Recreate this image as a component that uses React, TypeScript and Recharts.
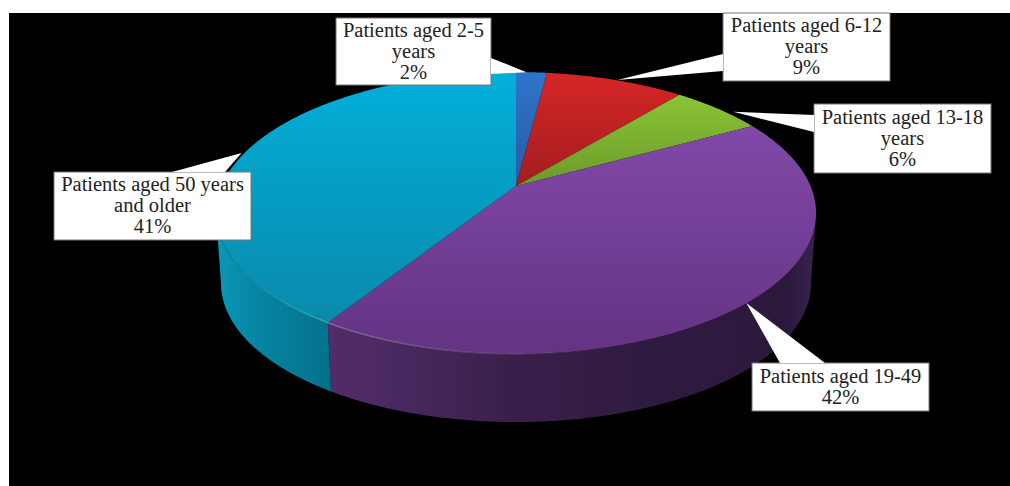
import React from "react";
import { PieChart, Pie } from "recharts";

const categories = [
  "Patients aged 2-5 years",
  "Patients aged 6-12 years",
  "Patients aged 13-18 years",
  "Patients aged 19-49",
  "Patients aged 50 years and older",
];
const values = [2, 9, 6, 42, 41];
const labelLines = [
  ["Patients aged 2-5", "years"],
  ["Patients aged 6-12", "years"],
  ["Patients aged 13-18", "years"],
  ["Patients aged 19-49"],
  ["Patients aged 50 years", "and older"],
];

// top face gradient, light to dark
const topColors = [
  ["#2f74cb", "#2a5aa2"],
  ["#d62626", "#a31d1f"],
  ["#8ac437", "#6c9a2a"],
  ["#8149a8", "#643383"],
  ["#02afd9", "#0a89ab"],
];

const wallStops: [number, string][][] = [
  [[0, "#1f4f90"], [1, "#1f4f90"]],
  [[0, "#8a1a1a"], [1, "#8a1a1a"]],
  [[0, "#5d8524"], [1, "#5d8524"]],
  [[0, "#532c69"], [0.19, "#46275c"], [0.38, "#3a1f4a"], [0.66, "#2e1a3f"], [0.94, "#2b193c"], [1, "#3a2350"]],
  [[0, "#0a97b8"], [0.3, "#0787a6"], [1, "#03708a"]],
];

// callout boxes, the two points where each pointer leaves its box,
// and how far its tip sits from the rim point at the slice's middle
const callouts = [
  { x: 336, y: 18, w: 155, h: 67, base: [[491, 58], [491, 74]], tipNudge: [-5, 0] },
  { x: 723, y: 13, w: 167, h: 68, base: [[723, 54], [723, 71]], tipNudge: [2, 0] },
  { x: 814, y: 104, w: 177, h: 69, base: [[814, 115], [814, 132]], tipNudge: [15, 3] },
  { x: 752, y: 363, w: 177, h: 48, base: [[780, 363], [825, 363]], tipNudge: [-4, 2] },
  { x: 54, y: 172, w: 197, h: 68, base: [[172, 172], [225, 172]], tipNudge: [-6, 3] },
];

const tableData = categories.map((name, i) => ({ name, value: values[i] }));

const CX = 516;
const CY = 186;
const RADIUS = 294.5;
const SQUASH = 0.461;
const TILT = 0.1915;
const WALL_DROP = 71;
const WALL_SCALE = 0.983;

// disc seen in perspective: the rim point for a polar angle, as an offset from the apex
const rimOffset = (deg: number, r: number) => {
  const rad = (deg * Math.PI) / 180;
  const u = Math.cos(rad);
  const v = -Math.sin(rad);
  const w = 1 - TILT * v;
  return { x: (r * u) / w, y: (r * SQUASH * v) / w, v };
};

const sampleAngles = (start: number, end: number) => {
  const steps = Math.max(2, Math.ceil(Math.abs(end - start) * 2));
  return Array.from({ length: steps + 1 }, (_, i) => start + ((end - start) * i) / steps);
};

const toPath = (pts: { x: number; y: number }[]) =>
  pts.map((p, i) => `${i ? "L" : "M"}${p.x.toFixed(2)},${p.y.toFixed(2)}`).join("");

const WallShape = (props: any) => {
  const { cx, cy, outerRadius, startAngle, endAngle, name } = props;
  const i = categories.indexOf(name);
  // only the part of the rim facing the viewer has a visible side
  const rim = sampleAngles(startAngle, endAngle)
    .map((a) => rimOffset(a, outerRadius))
    .filter((o) => o.v >= TILT);
  if (rim.length < 2) return <g />;
  const upper = rim.map((o) => ({ x: cx + o.x, y: cy + o.y }));
  const lower = rim
    .map((o) => ({ x: cx + o.x * WALL_SCALE, y: cy + WALL_DROP + o.y * WALL_SCALE }))
    .reverse();
  return <path d={toPath([...upper, ...lower]) + "Z"} fill={`url(#wall-${i})`} />;
};

const TopShape = (props: any) => {
  const { cx, cy, outerRadius, startAngle, endAngle, name } = props;
  const i = categories.indexOf(name);
  const rim = sampleAngles(startAngle, endAngle).map((a) => {
    const o = rimOffset(a, outerRadius);
    return { x: cx + o.x, y: cy + o.y, v: o.v };
  });
  const front = rim.filter((p) => p.v > 0);
  return (
    <g>
      <path d={toPath([{ x: cx, y: cy }, ...rim]) + "Z"} fill={`url(#top-${i})`} />
      {front.length > 1 && (
        <path d={toPath(front)} fill="none" stroke="url(#rimGlow)" strokeWidth={1.5} />
      )}
    </g>
  );
};

const CalloutLabel = (props: any) => {
  const { cx, cy, outerRadius, midAngle, name, value } = props;
  const i = categories.indexOf(name);
  const box = callouts[i];
  const tip = rimOffset(midAngle, outerRadius);
  const tipPoint = [cx + tip.x + box.tipNudge[0], cy + tip.y + box.tipNudge[1]];
  const pointer = [...box.base, tipPoint].map((p) => p.join(",")).join(" ");
  const lines = [...labelLines[i], `${value}%`];
  const lineHeight = 21;
  const firstLine = box.y + box.h / 2 - ((lines.length - 1) * lineHeight) / 2 + 6;
  return (
    <g>
      <rect x={box.x} y={box.y} width={box.w} height={box.h} fill="#fff" stroke="#777" strokeWidth={1} />
      <polygon points={pointer} fill="#fff" />
      <text
        textAnchor="middle"
        fontFamily="'Liberation Serif', serif"
        fontSize={20.5}
        fill="#222"
      >
        {lines.map((line, n) => (
          <tspan key={n} x={box.x + box.w / 2} y={firstLine + n * lineHeight}>
            {line}
          </tspan>
        ))}
      </text>
    </g>
  );
};

export default function App() {
  return (
    <div style={{ position: "absolute", left: 0, top: 0, width: 1010, height: 486, background: "#fff", overflow: "hidden" }}>
      <div style={{ position: "absolute", left: 9, top: 13, width: 1001, height: 473, background: "#000" }} />
      <div style={{ position: "absolute", left: 0, top: 0 }}>
        <PieChart width={1010} height={486} margin={{ top: 0, right: 0, bottom: 0, left: 0 }}>
          <defs>
            {topColors.map(([from, to], i) => (
              <linearGradient key={i} id={`top-${i}`} x1="0" y1="0" x2="0" y2="1">
                <stop offset="0%" stopColor={from} />
                <stop offset="100%" stopColor={to} />
              </linearGradient>
            ))}
            {wallStops.map((stops, i) => (
              <linearGradient key={i} id={`wall-${i}`} gradientUnits="userSpaceOnUse" x1={i === 3 ? 327 : 217} y1="0" x2={i === 3 ? 817 : 332} y2="0">
                {stops.map(([offset, color]) => (
                  <stop key={offset} offset={offset} stopColor={color} />
                ))}
              </linearGradient>
            ))}
            <linearGradient id="rimGlow" gradientUnits="userSpaceOnUse" x1="225" y1="0" x2="620" y2="0">
              <stop offset="0%" stopColor="#bff" stopOpacity={0} />
              <stop offset="25%" stopColor="#cff" stopOpacity={0.3} />
              <stop offset="60%" stopColor="#fff" stopOpacity={0.14} />
              <stop offset="100%" stopColor="#fff" stopOpacity={0} />
            </linearGradient>
          </defs>
          <Pie
            data={tableData}
            dataKey="value"
            nameKey="name"
            cx={CX}
            cy={CY}
            outerRadius={RADIUS}
            startAngle={90}
            endAngle={-270}
            stroke="none"
            shape={WallShape}
            isAnimationActive={false}
          />
          <Pie
            data={tableData}
            dataKey="value"
            nameKey="name"
            cx={CX}
            cy={CY}
            outerRadius={RADIUS}
            startAngle={90}
            endAngle={-270}
            stroke="none"
            shape={TopShape}
            label={CalloutLabel}
            labelLine={false}
            isAnimationActive={false}
          />
        </PieChart>
      </div>
    </div>
  );
}
